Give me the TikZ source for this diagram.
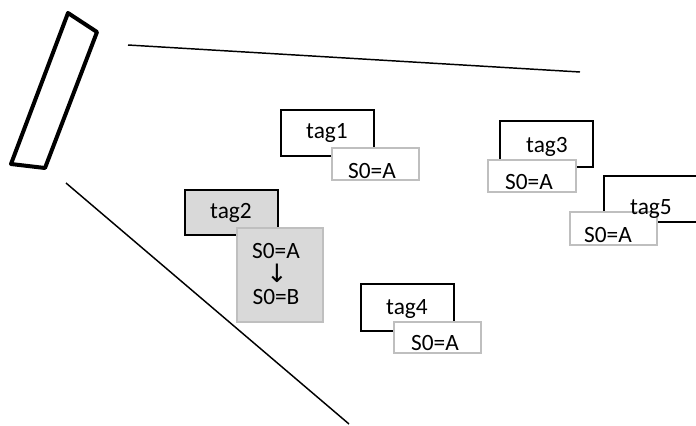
\documentclass[tikz,border=0pt]{standalone}
\usepackage{fontspec}
\setmainfont{Carlito}
\newfontfamily\arrowfont{DejaVu Sans}

\tikzset{every picture/.style={line width=0.75pt}}
\tikzset{
  tagbox/.style={draw=black, line width=1pt, fill=white},
  statebox/.style={draw=black!25, line width=1.5pt, fill=white},
  hit/.style={fill=black!15},
  lbl/.style={anchor=base, inner sep=0pt, font=\fontsize{17.5}{20}\selectfont}
}

\begin{document}
\begin{tikzpicture}[x=0.75pt,y=0.75pt,yscale=-1,xscale=1]
    \useasboundingbox (0,0) rectangle (696,425);

    %Reader antenna
    \draw [line width=3pt, line join=round]  (68,13) -- (97,32) -- (45,168) -- (11,164) -- cycle ;
    %Field boundaries
    \draw [line width=1.1pt]   (128,45) -- (580,72) ;
    \draw [line width=1.1pt]   (66,183) -- (349,424) ;

    %tag1
    \draw [tagbox]  (281,110) rectangle (374,156) ;
    \draw [statebox]  (332,148) rectangle (419,180) ;
    %tag2 (being written)
    \draw [tagbox, hit]  (185,190) rectangle (278,235) ;
    \draw [statebox, hit]  (237,228) rectangle (323,322) ;
    %tag3
    \draw [tagbox]  (500,121) rectangle (593,167) ;
    \draw [statebox]  (488,160) rectangle (576,192) ;
    %tag5
    \draw [tagbox]  (604,176) rectangle (698,222) ;
    \draw [statebox]  (570,212) rectangle (657,245) ;
    %tag4
    \draw [tagbox]  (361,284) rectangle (454,331) ;
    \draw [statebox]  (394,322) rectangle (481,353) ;

    % Text Node
    \node [lbl] (t1) at (327,138) {tag1};
    \node [lbl] (s1) at (372,178) {S0=A};
    % Text Node
    \node [lbl] (t2) at (231,218) {tag2};
    \node [lbl] (s2a) at (276,258) {S0=A};
    \node [lbl] (s2arr) at (277,282) {\arrowfont\fontsize{19}{20}\selectfont ↓};
    \node [lbl] (s2b) at (276,304) {S0=B};
    % Text Node
    \node [lbl] (t3) at (547,152) {tag3};
    \node [lbl] (s3) at (529,189) {S0=A};
    % Text Node
    \node [lbl] (t5) at (651,214) {tag5};
    \node [lbl] (s5) at (608,242) {S0=A};
    % Text Node
    \node [lbl] (t4) at (407,314) {tag4};
    \node [lbl] (s4) at (435,350) {S0=A};

\end{tikzpicture}
\end{document}
